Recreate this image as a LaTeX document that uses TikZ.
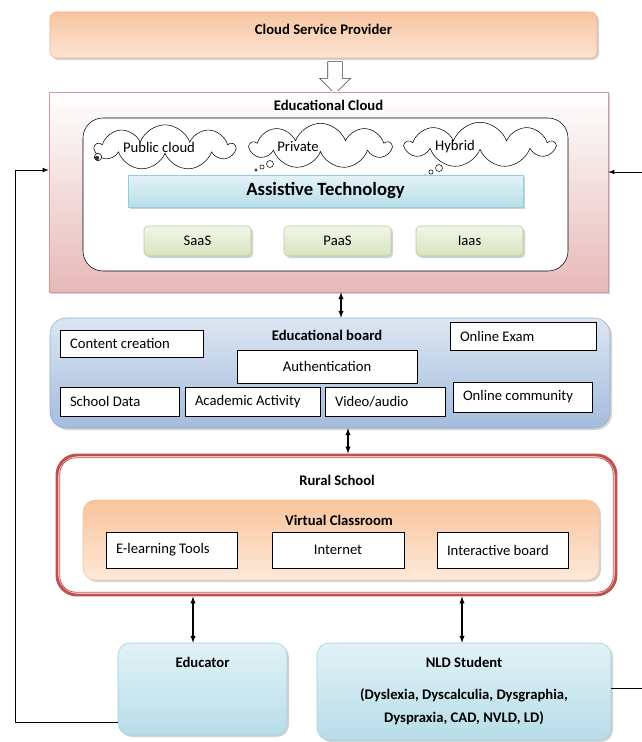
\documentclass[tikz,border=0pt]{standalone}
\usepackage{fontspec}
\setmainfont{Carlito}
\usetikzlibrary{shapes.symbols,shapes.arrows,shadows}

\definecolor{cspTop}{HTML}{F8C5A1}
\definecolor{cspBot}{HTML}{FCE4D3}
\definecolor{cspLine}{HTML}{F4B183}
\definecolor{ecBot}{HTML}{E6B9B8}
\definecolor{ecLine}{HTML}{D99694}
\definecolor{asTop}{HTML}{E4F3F7}
\definecolor{asBot}{HTML}{B7DEE8}
\definecolor{asLine}{HTML}{93CDDD}
\definecolor{svTop}{HTML}{F2F6EA}
\definecolor{svBot}{HTML}{D7E4BD}
\definecolor{svLine}{HTML}{B5CC8E}
\definecolor{bdTop}{HTML}{DCE6F2}
\definecolor{bdBot}{HTML}{A4BCDD}
\definecolor{bdLine}{HTML}{8FADD5}
\definecolor{rsLine}{HTML}{C0504D}
\definecolor{vcTop}{HTML}{F9C49C}
\definecolor{vcBot}{HTML}{FDE9D9}
\definecolor{peTop}{HTML}{E2F2F7}
\definecolor{peBot}{HTML}{B7DDE8}
\definecolor{peLine}{HTML}{9DD1E0}

\tikzset{
    shadowed/.style={drop shadow={opacity=0.35, shadow xshift=1.5pt, shadow yshift=-1.5pt}},
    title/.style={font=\fontsize{11}{13}\selectfont\bfseries},
    item/.style 2 args={draw, fill=white, text width=#1, minimum height=#2,
        inner xsep=7.5pt, inner ysep=0pt, align=flush left},
    puff/.style={cloud, draw, fill=white, cloud puffs=9, cloud puff arc=140,
        cloud ignores aspect, inner sep=0pt, minimum height=34pt},
    svc/.style={draw=svLine, top color=svTop, bottom color=svBot, rounded corners=3pt,
        minimum width=80.25pt, minimum height=22.5pt, shadowed},
    people/.style={draw=peLine, top color=peTop, bottom color=peBot, rounded corners=9pt,
        minimum height=69pt, shadowed}
}

\begin{document}
\begin{tikzpicture}[>=latex, x=0.75pt, y=-0.75pt, font=\fontsize{11}{13}\selectfont]
    \useasboundingbox (0,0) rectangle (642,742);

    % provider
    \node[draw=cspLine, top color=cspTop, bottom color=cspBot, rounded corners=5pt,
        minimum width=410.25pt, minimum height=34.5pt, shadowed] (csp) at (323.5,35) {};
    \node[title] (csptitle) at (323.5,29) {Cloud Service Provider};
    \node[single arrow, draw=black!75, fill=white, shape border rotate=270, minimum height=24pt,
        inner sep=5.25pt, single arrow head extend=6pt] (push) at (335,74) {};

    % educational cloud
    \node[draw=ecLine, top color=white, bottom color=ecBot, minimum width=419.25pt,
        minimum height=150pt, shadowed] (ecloud) at (328.5,192) {};
    \node[title] (ectitle) at (328.5,105) {Educational Cloud};
    \node[draw, fill=white, rounded corners=15pt, minimum width=363.75pt,
        minimum height=114.75pt] (inner) at (325.5,194.5) {};

    \node[puff, minimum width=104pt] (public) at (165,147.5) {};
    \node (publictxt) at (159,147) {Public cloud};
    \node[puff, minimum width=105pt] (private) at (320.5,146) {};
    \node (privatetxt) at (298,147) {Private};
    \node[puff, minimum width=111pt] (hybrid) at (480,145) {};
    \node (hybridtxt) at (455,147) {Hybrid};
    \draw[fill=white] (98,157) circle (2.8pt);
    \fill[black!80] (97,158) circle (1.6pt);
    \draw (256,170) circle (1pt) (262,167) circle (1.6pt) (270,164) circle (2.6pt);
    \draw (425,176) circle (1pt) (431,172) circle (1.6pt) (439,168) circle (2.6pt);

    \node[draw=asLine, top color=asTop, bottom color=asBot, minimum width=296.25pt,
        minimum height=24pt, shadowed, font=\fontsize{14}{16}\selectfont\bfseries] (assist) at (325.5,191) {Assistive Technology};

    \node[svc] (saas) at (197.5,241) {SaaS};
    \node[svc] (paas) at (337.5,241) {PaaS};
    \node[svc] (iaas) at (469.5,241) {Iaas};

    % educational board
    \node[draw=bdLine, top color=bdTop, bottom color=bdBot, rounded corners=12pt,
        minimum width=420pt, minimum height=82.5pt, shadowed] (board) at (330,373) {};
    \node[title] (bdtitle) at (327,335) {Educational board};
    \node[item={92.25pt}{20.25pt}] (content) at (131.5,343.5) {Content creation};
    \node[item={94.5pt}{21pt}] (exam) at (523,336) {Online Exam};
    \node[draw, fill=white, minimum width=135pt, minimum height=24.75pt] (auth) at (327,366.5) {Authentication};
    \node[item={74.25pt}{21.75pt}] (sdata) at (119.5,401.5) {School Data};
    \node[item={86.25pt}{21.75pt}] (activity) at (252.5,401.5) {Academic Activity};
    \node[item={75pt}{21.75pt}] (video) at (385,401.5) {Video/audio};
    \node[item={89.25pt}{22.5pt}] (community) at (522.5,397) {Online community};

    % rural school
    \node[draw=rsLine, line width=2.2pt, rounded corners=15pt,
        minimum width=419.25pt, minimum height=105pt] (rural) at (336.5,525) {};
    \draw[rsLine, line width=0.6pt, rounded corners=12pt] ([shift={(3.2pt,-3.2pt)}]rural.north west)
        rectangle ([shift={(-3.2pt,3.2pt)}]rural.south east);
    \node[title] (rstitle) at (337,480) {Rural School};
    \node[draw=vcTop, top color=vcTop, bottom color=vcBot, rounded corners=9pt,
        minimum width=387pt, minimum height=60pt, shadowed] (vclass) at (341,540) {};
    \node[title] (vctitle) at (339,520) {Virtual Classroom};
    \node[item={83.25pt}{27pt}] (etools) at (171.5,550) {E-learning Tools};
    \node[draw, fill=white, minimum width=99pt, minimum height=27pt] (internet) at (338,550) {Internet};
    \node[item={83.25pt}{27pt}] (iboard) at (502.5,550) {Interactive board};

    % users
    \node[people, minimum width=126.75pt] (educator) at (202.5,689) {};
    \node[title] (edtitle) at (202.5,662) {Educator};
    \node[people, minimum width=220.5pt, minimum height=72.75pt] (student) at (464,691.5) {};
    \node[title] (sttitle) at (464,662) {NLD Student};
    \node[title, align=center] (stlist) at (464,706.5) {(Dyslexia, Dyscalculia, Dysgraphia,\\[4pt] Dyspraxia, CAD, NVLD, LD)};

    % links
    \draw[<->, line width=0.8pt] ([xshift=9.375pt]ecloud.south) -- ([xshift=8.25pt]board.north);
    \draw[<->, line width=0.8pt] ([xshift=13.5pt]board.south) -- ([xshift=8.625pt]rural.north);
    \draw[<->, line width=0.8pt] ([xshift=-107.625pt]rural.south) -- ([xshift=-7.125pt]educator.north);
    \draw[<->, line width=0.8pt] ([xshift=94.125pt]rural.south) -- ([xshift=-1.5pt]student.north);
    \draw[->, line width=0.6pt] ([yshift=-24.75pt]educator.west) -- ++(-102,0) |- ([yshift=16.5pt]ecloud.west);
    \draw[->, line width=0.6pt] ([yshift=2.6pt]student.east) -- ++(45,0) |- ([yshift=15pt]ecloud.east);
\end{tikzpicture}
\end{document}
